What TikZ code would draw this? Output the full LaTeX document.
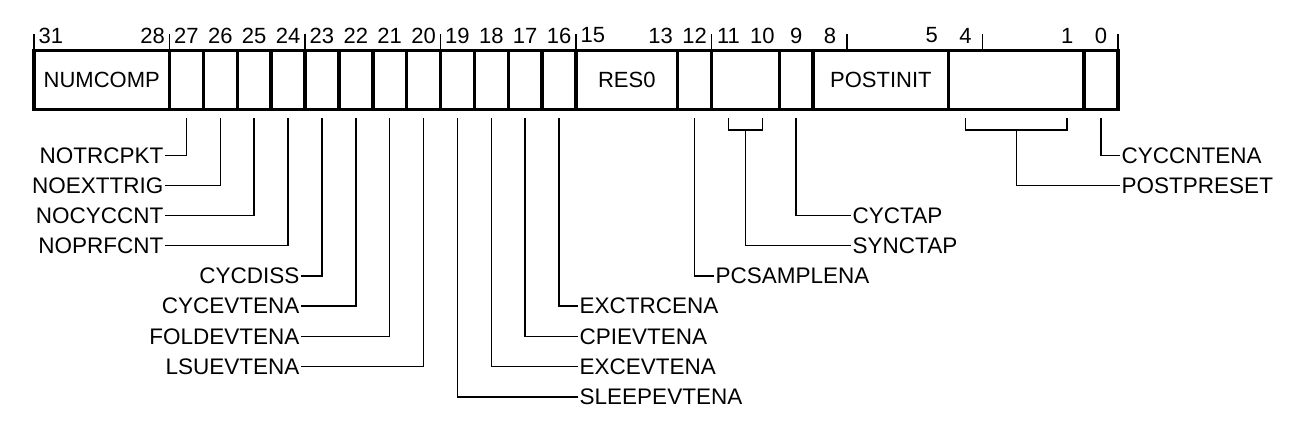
\documentclass[tikz,border=0pt]{standalone}
\usepackage{fontspec}
\setmainfont{Liberation Sans}
\newcommand{\bitx}[1]{34+(31.5-#1)*33.875}
\begin{document}
\begin{tikzpicture}[x=1pt,y=-1pt,
  regfield/.style={draw,line width=3.5pt,minimum height=59pt,inner sep=0pt,
    font=\fontsize{22}{26}\selectfont},
  bitnum/.style={inner sep=0pt,font=\fontsize{22}{26}\selectfont},
  fieldname/.style={inner sep=1.5pt,font=\fontsize{22.5}{26}\selectfont},
  wire/.style={line width=1.6pt}]
\useasboundingbox (0,0) rectangle (1294,423);

% register fields
\node[regfield,minimum width=135.5pt] (numcomp) at ({\bitx{29.5}},80) {NUMCOMP};
\foreach \b in {27,...,16}
  \node[regfield,minimum width=33.875pt] (b\b) at ({\bitx{\b}},80) {};
\node[regfield,minimum width=101.625pt] (res0) at ({\bitx{14}},80) {RES0};
\node[regfield,minimum width=33.875pt] (b12) at ({\bitx{12}},80) {};
\node[regfield,minimum width=67.75pt] (b11) at ({\bitx{10.5}},80) {};
\node[regfield,minimum width=33.875pt] (b9) at ({\bitx{9}},80) {};
\node[regfield,minimum width=135.5pt] (postinit) at ({\bitx{6.5}},80) {POSTINIT};
\node[regfield,minimum width=135.5pt] (b4) at ({\bitx{2.5}},80) {};
\node[regfield,minimum width=33.875pt] (b0) at ({\bitx{0}},80) {};

% bit numbers and ticks
\foreach \b in {31,28,27,26,25,24,23,22,21,20,19,18,17,16,15,13,12,11,10,9,8,5,4,1,0}
  \node[bitnum] (n\b) at ({\bitx{\b}},35.5) {\b};
\foreach \k in {0,...,8}
  \draw[line width=1.2pt] ({34+\k*135.5},34) -- ({34+\k*135.5},50);

% left labels
\node[fieldname,anchor=east] (notrcpkt) at (165,155.5) {NOTRCPKT};
\node[fieldname,anchor=east] (noexttrig) at (165,185.5) {NOEXTTRIG};
\node[fieldname,anchor=east] (nocyccnt) at (165,215.5) {NOCYCCNT};
\node[fieldname,anchor=east] (noprfcnt) at (165,245.5) {NOPRFCNT};
\node[fieldname,anchor=east] (cycdiss) at (301,276) {CYCDISS};
\node[fieldname,anchor=east] (cycevtena) at (301,306) {CYCEVTENA};
\node[fieldname,anchor=east] (foldevtena) at (301,336.5) {FOLDEVTENA};
\node[fieldname,anchor=east] (lsuevtena) at (301,366.5) {LSUEVTENA};

% right labels
\node[fieldname,anchor=west] (cyccntena) at (1120,155.5) {CYCCNTENA};
\node[fieldname,anchor=west] (postpreset) at (1120,185.5) {POSTPRESET};
\node[fieldname,anchor=west] (cyctap) at (851,215.5) {CYCTAP};
\node[fieldname,anchor=west] (synctap) at (851,245.5) {SYNCTAP};
\node[fieldname,anchor=west] (pcsamplena) at (714,276) {PCSAMPLENA};
\node[fieldname,anchor=west] (exctrcena) at (578,306) {EXCTRCENA};
\node[fieldname,anchor=west] (cpievtena) at (578,336.5) {CPIEVTENA};
\node[fieldname,anchor=west] (excevtena) at (578,366.5) {EXCEVTENA};
\node[fieldname,anchor=west] (sleepevtena) at (578,397) {SLEEPEVTENA};

% connectors
\draw[wire] ([yshift=-7pt]b27.south) |- (notrcpkt.east);
\draw[wire] ([yshift=-7pt]b26.south) |- (noexttrig.east);
\draw[wire] ([yshift=-7pt]b25.south) |- (nocyccnt.east);
\draw[wire] ([yshift=-7pt]b24.south) |- (noprfcnt.east);
\draw[wire] ([yshift=-7pt]b23.south) |- (cycdiss.east);
\draw[wire] ([yshift=-7pt]b22.south) |- (cycevtena.east);
\draw[wire] ([yshift=-7pt]b21.south) |- (foldevtena.east);
\draw[wire] ([yshift=-7pt]b20.south) |- (lsuevtena.east);
\draw[wire] ([yshift=-7pt]b19.south) |- (sleepevtena.west);
\draw[wire] ([yshift=-7pt]b18.south) |- (excevtena.west);
\draw[wire] ([yshift=-7pt]b17.south) |- (cpievtena.west);
\draw[wire] ([yshift=-7pt]b16.south) |- (exctrcena.west);
\draw[wire] ([yshift=-7pt]b12.south) |- (pcsamplena.west);
\draw[wire] ([yshift=-7pt]b9.south) |- (cyctap.west);
\draw[wire] ([yshift=-7pt]b0.south) |- (cyccntena.west);

% brackets for multi-bit fields
\coordinate (synctapbr) at ({\bitx{10.5}},130);
\draw[wire] ({\bitx{11}},118) |- (synctapbr) -| ({\bitx{10}},118);
\draw[wire] (synctapbr) |- (synctap.west);
\coordinate (postpresetbr) at ({\bitx{2.5}},130);
\draw[wire] ({\bitx{4}},118) |- (postpresetbr) -| ({\bitx{1}},118);
\draw[wire] (postpresetbr) |- (postpreset.west);
\end{tikzpicture}
\end{document}
